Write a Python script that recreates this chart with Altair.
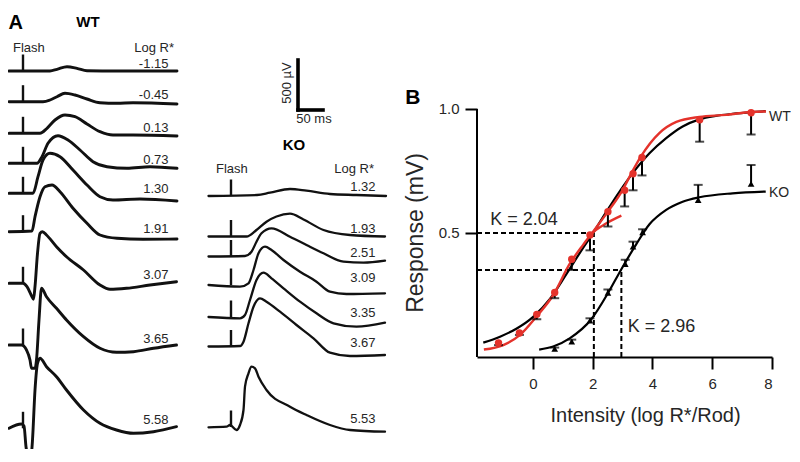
import altair as alt
import pandas as pd

FONT = "Liberation Sans"
INK = "#111111"
TXT = "#262626"
RED = "#e4322b"

# ---------------- Panel A: ERG traces (t in ms after flash, amplitude in µV) ----------------
WT_LABELS = ["-1.15", "-0.45", "0.13", "0.73", "1.30", "1.91", "3.07", "3.65", "5.58"]
WT_BASE_UV = [3910, 3603, 3287, 2987, 2687, 2303, 1787, 1170, 337]
WT_LABEL_UV = [3940, 3630, 3300, 2980, 2690, 2290, 1830, 1190, 380]
WT_T = [
    [-28, 54, 68, 88, 108, 128, 188, 308],
    [-28, 40, 54, 68, 84, 104, 128, 154, 188, 220, 308],
    [-28, 34, 48, 64, 84, 104, 128, 154, 180, 220, 308],
    [-28, 28, 38, 50, 70, 90, 114, 140, 168, 208, 254, 308],
    [-28, 20, 30, 40, 54, 74, 100, 128, 154, 180, 234, 308],
    [-28, 18, 24, 34, 44, 58, 74, 100, 128, 154, 188, 240, 308],
    [-28, 0, 8, 18, 21, 24, 29, 34, 39, 47, 67, 87, 121, 154, 174, 207, 254, 307],
    [-28, -3, 7, 14, 17, 24, 27, 32, 37, 47, 67, 87, 121, 154, 187, 221, 261, 307],
    [-28, -3, 2, 6, 9, 14, 17, 19, 24, 29, 34, 47, 67, 87, 121, 154, 187, 221, 261, 307],
]
WT_UV = [
    [0, 0, 17, 43, 27, 3, 0, 0],
    [0, 0, 17, 50, 84, 67, 27, -10, -16, -10, -23],
    [0, 0, 50, 133, 183, 166, 93, 16, -17, -17, -27],
    [0, 0, 66, 200, 276, 233, 133, 16, -34, -50, -34, -50],
    [0, 0, 166, 333, 400, 366, 233, 83, -34, -67, -57, -77],
    [0, 7, 150, 350, 450, 467, 400, 234, 84, -33, -66, -76, -73],
    [0, 0, -34, -134, -160, -34, 300, 500, 516, 483, 366, 266, 133, -17, -60, -50, -17, 16],
    [0, 0, -50, -150, -233, -233, -150, 250, 567, 483, 367, 250, 83, -33, -73, -67, -33, 0],
    [0, 43, 23, -184, -267, -317, -250, -117, 383, 650, 700, 616, 516, 383, 183, 50, -17, -50, -34, 16],
]

KO_LABELS = ["1.32", "1.93", "2.51", "3.09", "3.35", "3.67", "5.53"]
KO_BASE_UV = [2660, 2255, 2055, 1770, 1450, 1155, 350]
KO_LABEL_UV = [2710, 2290, 2050, 1800, 1450, 1150, 390]
KO_T = [
    [-45, 52, 78, 118, 151, 198, 251, 310],
    [-45, 31, 51, 71, 91, 118, 145, 185, 238, 308],
    [-45, 28, 41, 51, 61, 81, 118, 151, 185, 225, 265, 308],
    [-45, 18, 35, 45, 55, 68, 81, 105, 138, 171, 198, 231, 308],
    [-45, 18, 28, 38, 51, 65, 81, 105, 138, 171, 205, 251, 308],
    [-45, 18, 25, 35, 45, 58, 71, 98, 131, 165, 198, 238, 308],
    [-45, -9, -2, 11, 18, 25, 28, 35, 41, 48, 55, 71, 118, 151, 198, 238, 308],
]
KO_UV = [
    [0, 10, 33, 70, 53, 20, 10, 0],
    [0, 0, 65, 148, 200, 228, 170, 65, 15, 0],
    [0, 5, 48, 148, 232, 282, 198, 115, 32, -52, -62, -42],
    [0, -17, 17, 150, 317, 383, 350, 250, 133, 33, -67, -90, -83],
    [0, -13, 20, 170, 370, 443, 387, 287, 153, 37, -63, -97, -57],
    [0, 5, 48, 232, 398, 482, 448, 348, 215, 82, -62, -95, -85],
    [-3, 3, 20, -30, 20, 170, 403, 537, 603, 587, 503, 370, 203, 120, 20, -30, -47],
]
FLASH_UV = 165
SCALE_BAR_MS = 50
SCALE_BAR_UV = 500

# ---------------- Panel B: intensity-response ----------------
WT_X = [-1.15, -0.45, 0.13, 0.73, 1.30, 1.91, 2.51, 3.07, 3.35, 3.65, 5.58, 7.30]
WT_Y = [0.057, 0.097, 0.172, 0.260, 0.394, 0.492, 0.586, 0.672, 0.739, 0.804, 0.956, 0.985]
WT_ERR = [0.048, 0.089, 0.152, 0.237, 0.351, 0.430, 0.526, 0.607, 0.672, 0.732, 0.868, 0.897]
KO_X = [0.73, 1.30, 1.91, 2.51, 3.09, 3.35, 3.67, 5.53, 7.30]
KO_Y = [0.033, 0.062, 0.147, 0.259, 0.375, 0.445, 0.503, 0.633, 0.698]
KO_ERR = [0.038, 0.070, 0.156, 0.272, 0.392, 0.465, 0.515, 0.694, 0.774]

FIT_WT_X = [-1.66, -1.1, -0.54, 0.01, 0.57, 1.12, 1.68, 2.01, 2.46, 2.9, 3.34, 3.9, 4.46, 5.01, 5.57, 6.12, 6.68, 7.34, 7.79]
FIT_WT_Y = [0.058, 0.082, 0.115, 0.162, 0.234, 0.334, 0.440, 0.499, 0.586, 0.667, 0.741, 0.821, 0.882, 0.929, 0.958, 0.972, 0.980, 0.987, 0.991]
FIT_RED_LO_X = [-1.64, -0.99, -0.43, 0.12, 0.68, 1.23, 1.68, 1.96, 2.46, 2.96]
FIT_RED_LO_Y = [0.030, 0.048, 0.089, 0.163, 0.250, 0.375, 0.452, 0.496, 0.539, 0.570]
FIT_RED_HI_X = [1.92, 2.2, 2.51, 3.0, 3.3, 3.6, 4.23, 4.8, 5.57, 6.47, 7.3, 7.8]
FIT_RED_HI_Y = [0.490, 0.535, 0.586, 0.673, 0.742, 0.806, 0.903, 0.948, 0.968, 0.976, 0.988, 0.990]
FIT_KO_X = [0.21, 0.68, 1.23, 1.96, 2.51, 2.96, 3.46, 3.9, 4.46, 5.01, 5.57, 6.68, 7.79]
FIT_KO_Y = [0.030, 0.042, 0.075, 0.153, 0.257, 0.354, 0.455, 0.535, 0.593, 0.626, 0.644, 0.660, 0.667]

K_WT = 2.04
K_KO = 2.96
K_WT_Y = 0.50
K_KO_Y = 0.351
X_LEFT = -1.87

# ======================= build panel A =======================
A_HEIGHT = 441
Y_SCALE_A = alt.Scale(domain=[130, 4540], nice=False, zero=False)


def traces_df(labels, bases, ts, uvs):
    rows = []
    for lab, b, tt, uu in zip(labels, bases, ts, uvs):
        for t, u in zip(tt, uu):
            rows.append({"trace": lab, "t": t, "v": b + u})
    return pd.DataFrame(rows)


def panel_a(labels, bases, label_uv, ts, uvs, xdom, width, label_t, headers, extra=None, sw=2.6):
    xs = alt.Scale(domain=xdom, nice=False, zero=False)
    X = lambda f: alt.X(f, scale=xs, axis=None)
    Y = lambda f: alt.Y(f, scale=Y_SCALE_A, axis=None)
    lines = alt.Chart(traces_df(labels, bases, ts, uvs)).mark_line(
        interpolate="monotone", strokeWidth=sw, color=INK, strokeJoin="round", strokeCap="round",
        clip=True
    ).encode(x=X("t:Q"), y=Y("v:Q"), detail="trace:N", order="t:Q")
    fl = pd.DataFrame({"t": [0] * len(bases), "v": bases, "v2": [b + FLASH_UV for b in bases]})
    flash = alt.Chart(fl).mark_rule(strokeWidth=2.4, color=INK).encode(
        x=X("t:Q"), y=Y("v:Q"), y2="v2:Q")
    lab = pd.DataFrame({"t": [label_t] * len(labels), "v": label_uv, "text": labels})
    labs = alt.Chart(lab).mark_text(align="right", baseline="alphabetic", font=FONT,
                                    fontSize=13, color=TXT).encode(
        x=X("t:Q"), y=Y("v:Q"), text="text:N")
    layers = [lines, flash, labs]
    for (t, v, text, align, size, weight, angle) in headers:
        d = pd.DataFrame({"t": [t], "v": [v], "text": [text]})
        layers.append(alt.Chart(d).mark_text(align=align, baseline="alphabetic", font=FONT,
                                             fontSize=size, fontWeight=weight,
                                             color=TXT if weight == "normal" else "#000",
                                             angle=angle).encode(
            x=X("t:Q"), y=Y("v:Q"), text="text:N"))
    if extra is not None:
        layers += extra(X, Y)
    return alt.layer(*layers).properties(width=width, height=A_HEIGHT)


WT_HEADERS = [
    (-29, 4330, "A", "left", 20, "bold", 0),
    (130, 4350, "WT", "center", 15, "bold", 0),
    (-20, 4100, "Flash", "left", 13, "normal", 0),
    (302, 4100, "Log R*", "right", 13, "normal", 0),
]
KO_HEADERS = [
    (126, 3120, "KO", "center", 15, "bold", 0),
    (-30, 2890, "Flash", "left", 13, "normal", 0),
    (286, 2890, "Log R*", "right", 13, "normal", 0),
]
SB_T0 = 134
SB_V0 = 3520


def scale_bar(X, Y):
    v = pd.DataFrame({"t": [SB_T0], "v": [SB_V0], "v2": [SB_V0 + SCALE_BAR_UV]})
    h = pd.DataFrame({"t": [SB_T0], "t2": [SB_T0 + SCALE_BAR_MS], "v": [SB_V0]})
    vb = alt.Chart(v).mark_rule(strokeWidth=3.6, color="#000", strokeCap="square").encode(
        x=X("t:Q"), y=Y("v:Q"), y2="v2:Q")
    hb = alt.Chart(h).mark_rule(strokeWidth=3.6, color="#000", strokeCap="square").encode(
        x=X("t:Q"), x2="t2:Q", y=Y("v:Q"))
    t1 = alt.Chart(pd.DataFrame({"t": [112], "v": [3790], "text": ["500 µV"]})).mark_text(
        angle=270, align="center", baseline="middle", font=FONT, fontSize=13, color=TXT).encode(
        x=X("t:Q"), y=Y("v:Q"), text="text:N")
    t2 = alt.Chart(pd.DataFrame({"t": [166], "v": [3390], "text": ["50 ms"]})).mark_text(
        align="center", baseline="alphabetic", font=FONT, fontSize=13, color=TXT).encode(
        x=X("t:Q"), y=Y("v:Q"), text="text:N")
    return [vb, hb, t1, t2]


wt_chart = panel_a(WT_LABELS, WT_BASE_UV, WT_LABEL_UV, WT_T, WT_UV, [-30, 334], 182, 291, WT_HEADERS, sw=2.9)
ko_chart = panel_a(KO_LABELS, KO_BASE_UV, KO_LABEL_UV, KO_T, KO_UV, [-82, 492], 287, 289, KO_HEADERS,
                   extra=scale_bar, sw=2.3)

# ======================= build panel B =======================
xs_b = alt.Scale(domain=[X_LEFT, 8], nice=False, zero=False)
ys_b = alt.Scale(domain=[0, 1.407], nice=False, zero=False)
x_axis = alt.Axis(values=[0, 2, 4, 6, 8], format="d", title="Intensity (log R*/Rod)", grid=False,
                  tickSize=12, tickWidth=2, tickColor="#000", domainWidth=2, domainColor="#000",
                  labelFont=FONT, labelFontSize=15, labelColor=TXT, labelPadding=7,
                  titleFont=FONT, titleFontSize=20, titleFontWeight="normal", titleColor=TXT,
                  titleX=168, titleY=64, titleAlign="center", titleBaseline="alphabetic")
y_axis = alt.Axis(values=[0.5, 1.0], format=".1f", title=None, grid=False, domain=False,
                  tickSize=12, tickWidth=2, tickColor="#000",
                  labelFont=FONT, labelFontSize=15, labelColor=TXT, labelPadding=6)
BX = alt.X("x:Q", scale=xs_b, axis=x_axis)
BY = alt.Y("y:Q", scale=ys_b, axis=y_axis)

dash_df = pd.DataFrame({
    "x": [X_LEFT, K_WT, X_LEFT, K_KO],
    "x2": [K_WT, K_WT, K_KO, K_KO],
    "y": [K_WT_Y, 0, K_KO_Y, 0],
    "y2": [K_WT_Y, K_WT_Y, K_KO_Y, K_KO_Y],
})
dashes = alt.Chart(dash_df).mark_rule(strokeWidth=2, color="#000", strokeDash=[5, 3]).encode(
    x=BX, x2="x2:Q", y=BY, y2="y2:Q")
yline = alt.Chart(pd.DataFrame({"x": [X_LEFT], "y": [0], "y2": [1.0]})).mark_rule(
    strokeWidth=2, color="#000").encode(x=BX, y=BY, y2="y2:Q")


def curve(xv, yv, color, sw):
    return alt.Chart(pd.DataFrame({"x": xv, "y": yv})).mark_line(
        interpolate="monotone", color=color, strokeWidth=sw).encode(x=BX, y=BY, order="x:Q")


c_wt = curve(FIT_WT_X, FIT_WT_Y, "#000", 2.2)
c_ko = curve(FIT_KO_X, FIT_KO_Y, "#000", 2.2)
c_r1 = curve(FIT_RED_LO_X, FIT_RED_LO_Y, RED, 2.4)
c_r2 = curve(FIT_RED_HI_X, FIT_RED_HI_Y, RED, 2.4)

err_df = pd.DataFrame({"x": WT_X + KO_X, "y": WT_Y + KO_Y, "y2": WT_ERR + KO_ERR})
err_rule = alt.Chart(err_df).mark_rule(strokeWidth=2, color="#000").encode(x=BX, y=BY, y2="y2:Q")
err_cap = alt.Chart(err_df.drop(columns="y").rename(columns={"y2": "y"})).mark_tick(
    orient="horizontal", size=9, thickness=2, color="#000").encode(x=BX, y=BY)

pts_wt = alt.Chart(pd.DataFrame({"x": WT_X, "y": WT_Y})).mark_point(
    shape="circle", filled=True, size=55, color=RED, opacity=1).encode(x=BX, y=BY)
pts_ko = alt.Chart(pd.DataFrame({"x": KO_X, "y": KO_Y})).mark_point(
    shape="triangle-up", filled=True, size=45, color="#000", opacity=1).encode(x=BX, y=BY)


def btext(x, y, text, size, align="left", baseline="alphabetic", weight="normal", angle=0):
    return alt.Chart(pd.DataFrame({"x": [x], "y": [y], "text": [text]})).mark_text(
        align=align, baseline=baseline, font=FONT, fontSize=size, fontWeight=weight,
        color="#000" if weight == "bold" else TXT, angle=angle).encode(x=BX, y=BY, text="text:N")


texts_b = [
    btext(-4.27, 1.02, "B", 21, weight="bold"),
    btext(-3.9, 0.50, "Response (mV)", 23, align="center", baseline="middle", angle=270),
    btext(-1.43, 0.532, "K = 2.04", 18),
    btext(3.17, 0.102, "K = 2.96", 18),
    btext(7.9, 0.969, "WT", 14, baseline="middle"),
    btext(7.9, 0.660, "KO", 14, baseline="middle"),
]

panel_b = alt.layer(dashes, yline, c_wt, c_ko, c_r1, c_r2, err_rule, err_cap, pts_wt, pts_ko,
                    *texts_b).properties(width=295, height=349)

chart = alt.hconcat(wt_chart, ko_chart, panel_b, spacing=0, bounds="flush", padding=0
                    ).configure_view(stroke=None)

chart.save("out.html", embed_options={"renderer": "svg", "actions": False})
